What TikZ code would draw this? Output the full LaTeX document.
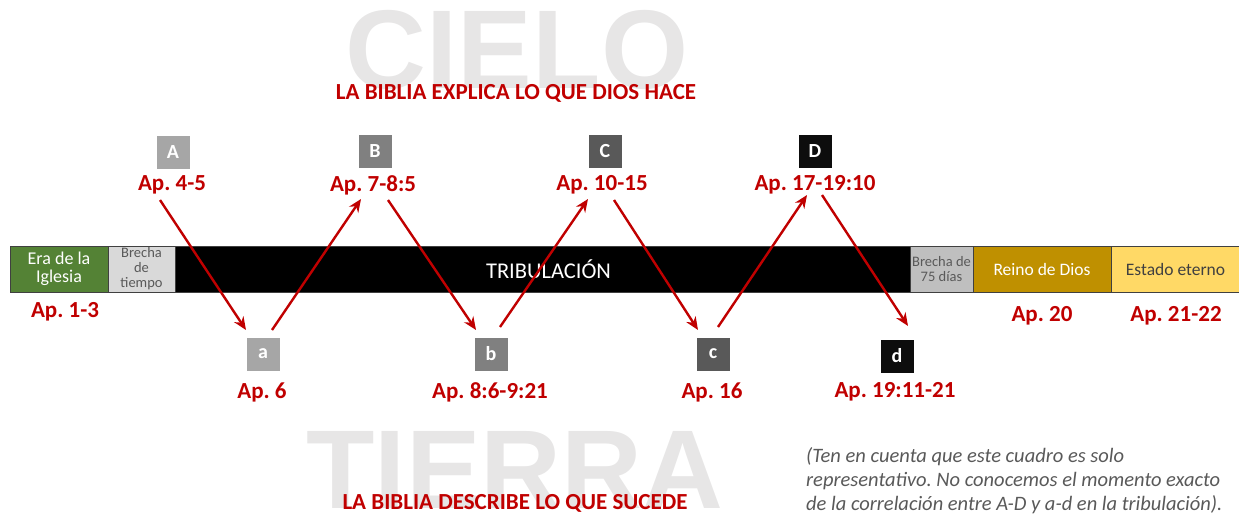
\documentclass[tikz,border=0pt]{standalone}
\usepackage{fontspec}
\setmainfont{Carlito}
\newfontfamily\bigfont{Liberation Sans}
\usepackage{xcolor}
\usetikzlibrary{arrows.meta,positioning,calc}
\frenchspacing

\definecolor{apred}{HTML}{C00000}
\definecolor{eragreen}{HTML}{548235}
\definecolor{gaplight}{HTML}{D9D9D9}
\definecolor{gapgray}{HTML}{BFBFBF}
\definecolor{reinogold}{HTML}{BF9000}
\definecolor{eternoyellow}{HTML}{FFD966}
\definecolor{watermark}{HTML}{E7E6E6}
\definecolor{notegray}{HTML}{595959}

\begin{document}
\begin{tikzpicture}[
    x=1pt, y=-1pt,
    seg/.style={rectangle, draw=black!75, line width=0.8pt, outer sep=0pt, inner sep=1pt, align=center, minimum height=46pt, font=\fontsize{17.5}{17}\selectfont},
    smallseg/.style={seg, text=notegray, font=\fontsize{14.5}{15}\selectfont},
    ltr/.style={rectangle, minimum size=33pt, inner sep=0pt, text=white, font=\fontsize{20}{20}\selectfont\bfseries},
    ref/.style={text=apred, inner sep=0pt, font=\fontsize{23}{23}\selectfont\bfseries},
    title/.style={text=apred, inner sep=0pt, font=\fontsize{23}{23}\selectfont\bfseries},
    wmark/.style={text=watermark, inner sep=0pt, font=\bigfont\fontsize{112}{112}\selectfont\bfseries},
    arrow/.style={-{Stealth[length=13pt, width=11pt]}, line width=2.4pt, draw=apred}
]
    \useasboundingbox (0,0) rectangle (1239,514);

    % background words
    \node [wmark] (cielo) at (517,50) {CIELO};
    \node [wmark] (tierra) at (515,470) {TIERRA};
    \node [title] (explica) at (516,93) {LA BIBLIA EXPLICA LO QUE DIOS HACE};
    \node [title] (describe) at (515,503) {LA BIBLIA DESCRIBE LO QUE SUCEDE};

    % time line
    \node [seg, fill=eragreen, text=white, minimum width=98pt, font=\fontsize{18}{18}\selectfont, anchor=north west] (era) at (10,246) {Era de la\\Iglesia};
    \node [smallseg, fill=gaplight, minimum width=67pt, right=0pt of era] (gap1) {Brecha\\de\\tiempo};
    \node [seg, fill=black, text=white, minimum width=735pt, font=\fontsize{22.5}{22}\selectfont, right=0pt of gap1] (trib) {\hspace*{12pt}TRIBULACIÓN};
    \node [smallseg, fill=gapgray, minimum width=63pt, right=0pt of trib] (gap2) {Brecha de\\75 días};
    \node [seg, fill=reinogold, text=white, minimum width=138pt, right=0pt of gap2] (reino) {Reino de Dios};
    \node [seg, fill=eternoyellow, text=black!75, minimum width=129pt, right=0pt of reino] (eterno) {Estado eterno};

    \node [ref] (ap13) at (65,312) {Ap. 1-3};
    \node [ref] (ap20) at (1042,316) {Ap. 20};
    \node [ref] (ap2122) at (1176,316) {Ap. 21-22};

    % heaven
    \node [ltr, fill=black!35] (A) at (173,152) {A};
    \node [ltr, fill=black!50] (B) at (375,151) {B};
    \node [ltr, fill=black!65] (C) at (605,151) {C};
    \node [ltr, fill=black!95] (D) at (815,151) {D};
    \node [ref] (apA) at (172,185) {Ap. 4-5};
    \node [ref] (apB) at (373,185) {Ap. 7-8:5};
    \node [ref] (apC) at (602,185) {Ap. 10-15};
    \node [ref] (apD) at (815,185) {Ap. 17-19:10};

    % earth
    \node [ltr, fill=black!35] (a) at (263,354) {a};
    \node [ltr, fill=black!50] (b) at (491,354) {b};
    \node [ltr, fill=black!65] (c) at (713,354) {c};
    \node [ltr, fill=black!95] (d) at (897,356) {d};
    \node [ref] (apa) at (262,392) {Ap. 6};
    \node [ref] (apb) at (490,392) {Ap. 8:6-9:21};
    \node [ref] (apc) at (712,392) {Ap. 16};
    \node [ref] (apd) at (895,392) {Ap. 19:11-21};

    \draw [arrow] ($(apA)+(-12,15)$) -- ($(a)+(-17,-24)$);
    \draw [arrow] ($(a)+(9,-24)$) -- ($(apB)+(-12,14)$);
    \draw [arrow] ($(apB)+(15,15)$) -- ($(b)+(-15,-24)$);
    \draw [arrow] ($(b)+(9,-27)$) -- ($(apC)+(-14,14)$);
    \draw [arrow] ($(apC)+(12,15)$) -- ($(c)+(-15,-24)$);
    \draw [arrow] ($(c)+(5,-27)$) -- ($(apD)+(-8,10)$);
    \draw [arrow] ($(apD)+(7,10)$) -- ($(d)+(11,-30)$);

    \node [anchor=north west, align=left, inner sep=0pt, text=notegray, font=\fontsize{20.5}{24}\selectfont\itshape] (note) at (806,447)
        {(Ten en cuenta que este cuadro es solo\\representativo. No conocemos el momento exacto\\de la correlación entre A-D y a-d en la tribulación).};
\end{tikzpicture}
\end{document}
